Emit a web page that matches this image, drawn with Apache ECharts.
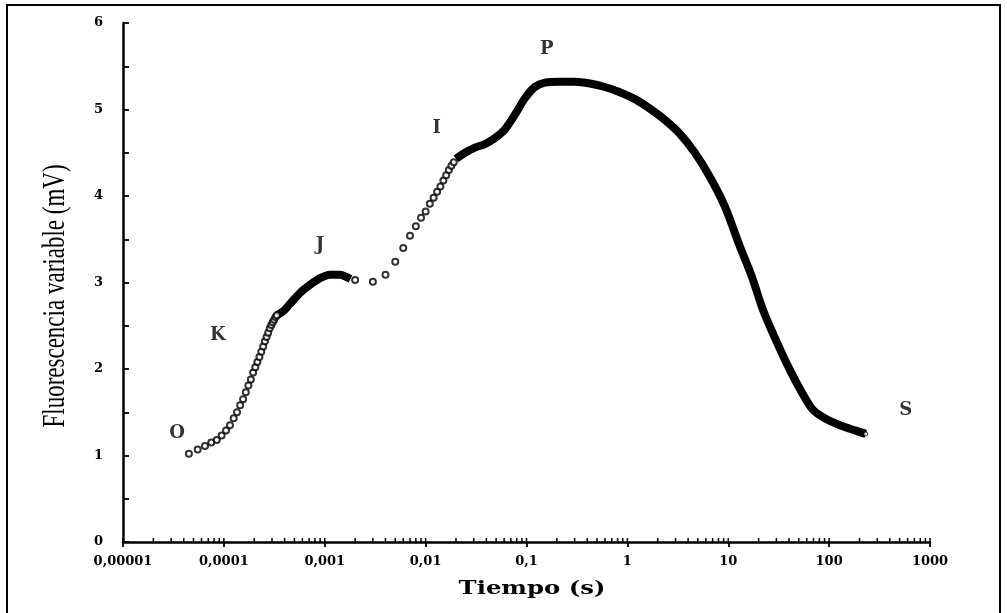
<!DOCTYPE html>
<html>
<head>
<meta charset="utf-8">
<script src="https://cdn.jsdelivr.net/npm/echarts@6/dist/echarts.min.js"></script>
<style>
html,body{margin:0;padding:0;background:#fff;}
#chart{width:1007px;height:613px;}
</style>
</head>
<body>
<div id="chart"></div>
<script>
// ---- data ----
// early part (O -> K), individually visible circles
const earlyT = [0.000045,0.000055,0.000065,0.000075,0.000085,0.000095,0.000105,0.000115,0.000125,0.000135,
                0.000145,0.000155,0.000165,0.000175,0.000185,0.000195,0.000205,0.000215,0.000225,0.000235,
                0.000245,0.000255,0.000265,0.000275,0.000285,0.000295,0.000305,0.000315,0.000325,0.000335];
const earlyF = [1.02,1.07,1.11,1.15,1.18,1.23,1.29,1.35,1.43,1.50,
                1.58,1.65,1.73,1.81,1.88,1.96,2.02,2.08,2.14,2.20,
                2.26,2.32,2.37,2.42,2.47,2.51,2.54,2.57,2.60,2.62];
// dense band around J
const bandJT = [0.000335,0.00039,0.00045,0.00057,0.00071,0.0009,0.00113,0.00142,0.00166,0.0018];
const bandJF = [2.62,2.67,2.75,2.88,2.97,3.05,3.09,3.09,3.06,3.04];
// sparse circles J -> I
const sparseT = [0.002,0.003,0.004,0.005,0.006,0.007,0.008,0.009,0.010,0.011,0.012,0.013,0.014,0.015,0.016,0.017,0.018,0.019];
const sparseF = [3.03,3.01,3.09,3.24,3.40,3.54,3.65,3.75,3.82,3.91,3.98,4.05,4.11,4.18,4.24,4.30,4.35,4.39];
// dense band I -> P -> S
const bandPT = [0.02,0.0245,0.0308,0.0387,0.0487,0.0611,0.0768,0.0965,0.121,0.152,0.214,0.302,0.425,0.598,0.843,
                1.19,1.67,2.35,3.31,4.67,6.58,9.25,13.0,17.1,22.0,29.0,40.8,54.8,68.9,90.6,128,180,231];
const bandPF = [4.43,4.50,4.56,4.60,4.67,4.77,4.94,5.13,5.26,5.31,5.32,5.32,5.30,5.26,5.20,
                5.12,5.01,4.88,4.72,4.50,4.22,3.88,3.42,3.07,2.69,2.36,1.99,1.71,1.53,1.43,1.35,1.29,1.25];
// step annotations
const annNames = ['O','K','J','I','P','S'];
const annT = [0.0000343,0.000087,0.000896,0.0129,0.159,576];
const annF = [1.26,2.39,3.43,4.78,5.70,1.52];
// axis ticks
const xTickValues = [0.00001,0.0001,0.001,0.01,0.1,1,10,100,1000];
const xTickLabels = ['0,00001','0,0001','0,001','0,01','0,1','1','10','100','1000'];
const minorMult = [1,2,3,4,5,6,7,8,9];

const zip = (a,b) => a.map((v,i) => [v,b[i]]);
const tickMarks = [];
xTickValues.forEach((d,i) => {
  if (i === xTickValues.length - 1) { tickMarks.push([d,0]); return; }
  minorMult.forEach(m => tickMarks.push([d*m,0]));
});

const circleStyle = {color:'#fff', borderColor:'#000', borderWidth:2};

const chart = echarts.init(document.getElementById('chart'), null, {renderer:'canvas'});
chart.setOption({
  animation:false,
  backgroundColor:'#fff',
  grid:{left:123, right:77, top:23, bottom:71, containLabel:false},
  xAxis:{
    type:'log', logBase:10, min:0.00001, max:1000,
    axisLine:{lineStyle:{color:'#000', width:2.5}},
    axisTick:{show:true, inside:false, length:5, lineStyle:{color:'#000', width:1.8}},
    splitLine:{show:false},
    axisLabel:{
      interval:0, margin:13, color:'#000',
      fontFamily:'DejaVu Serif', fontWeight:'bold', fontSize:13,
      formatter:function(v){
        const i = xTickValues.findIndex(d => Math.abs(Math.log10(d) - Math.log10(v)) < 1e-6);
        return i >= 0 ? xTickLabels[i] : '';
      }
    }
  },
  yAxis:{
    type:'value', min:0, max:6, interval:1,
    axisLine:{show:true, lineStyle:{color:'#000', width:2.5}},
    axisTick:{show:true, inside:true, length:6, lineStyle:{color:'#000', width:1.8}},
    minorTick:{show:true, splitNumber:2, length:6, lineStyle:{color:'#000', width:1.8}},
    splitLine:{show:false},
    axisLabel:{margin:20, color:'#000', fontFamily:'DejaVu Serif', fontWeight:'bold', fontSize:13}
  },
  series:[
    {
      type:'custom', silent:true, clip:false, z:5,
      data:tickMarks,
      renderItem:function(params, api){
        const p = api.coord([api.value(0), 0]);
        return {type:'line', shape:{x1:p[0], y1:p[1], x2:p[0], y2:p[1]-4},
                style:{stroke:'#000', lineWidth:1.5}};
      }
    },
    {
      type:'line', data:zip(bandJT,bandJF), smooth:0.3, showSymbol:false,
      lineStyle:{color:'#000', width:8}, silent:true, z:3
    },
    {
      type:'line', data:zip(bandPT,bandPF), smooth:0.3, showSymbol:false,
      lineStyle:{color:'#000', width:8}, silent:true, z:3
    },
    {
      type:'scatter', data:zip(earlyT,earlyF).concat(zip(sparseT,sparseF)),
      symbol:'circle', symbolSize:6, itemStyle:circleStyle, z:4, silent:true
    },
    {
      type:'scatter', data:[[bandPT[bandPT.length-1], bandPF[bandPF.length-1]]],
      symbol:'circle', symbolSize:4, itemStyle:{color:'#fff', borderColor:'#000', borderWidth:1}, z:6, silent:true
    },
    {
      type:'scatter', symbolSize:0, silent:true, z:7,
      data:annNames.map((n,i) => ({name:n, value:[annT[i], annF[i]]})),
      label:{show:true, position:'inside', formatter:'{b}', color:'#000',
             fontFamily:'DejaVu Serif', fontWeight:'bold', fontSize:18}
    }
  ],
  graphic:[
    {type:'rect', shape:{x:7, y:5, width:993, height:640},
     style:{fill:'none', stroke:'#000', lineWidth:2}, silent:true},
    {type:'text', x:56, y:296, rotation:Math.PI/2, scaleY:1.4,
     style:{text:'Fluorescencia variable (mV)', font:'23px "Liberation Serif"', fill:'#000',
            align:'center', verticalAlign:'middle', textAlign:'center', textVerticalAlign:'middle'}},
    {type:'text', x:532, y:589, scaleX:1.35,
     style:{text:'Tiempo (s)', font:'bold 18px "DejaVu Serif"', fill:'#000',
            align:'center', verticalAlign:'middle', textAlign:'center', textVerticalAlign:'middle'}}
  ]
});
</script>
</body>
</html>
